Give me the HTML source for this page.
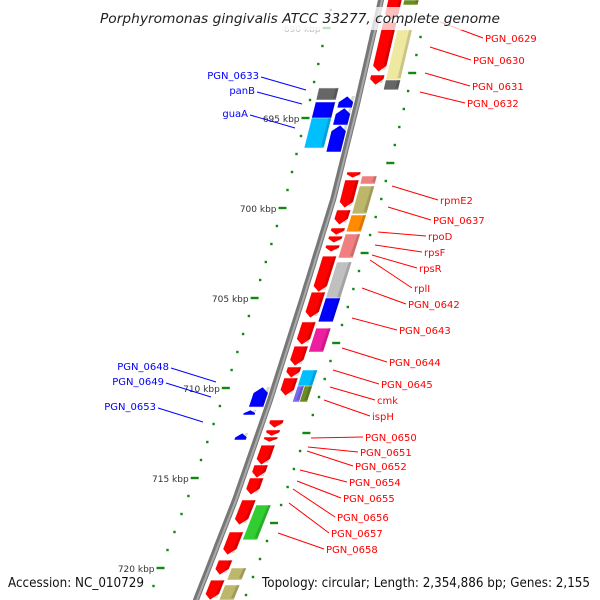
<!DOCTYPE html>
<html><head><meta charset="utf-8"><style>
html,body{margin:0;padding:0;background:#fff;}
svg{display:block;font-family:"DejaVu Sans","Liberation Sans",sans-serif;}
</style></head><body>
<svg id="map" width="600" height="600" viewBox="0 0 600 600" xmlns="http://www.w3.org/2000/svg">
<g id="dots"></g>
<g id="backbone"></g>
<g id="genes"></g>
<g id="ticks"></g>
<g id="labels"></g>
<rect x="0" y="7" width="600" height="23" fill="#fff" fill-opacity="0.75"/>
<text x="100" y="23" textLength="400" lengthAdjust="spacingAndGlyphs" font-size="13" font-style="italic" fill="#222">Porphyromonas gingivalis ATCC 33277, complete genome</text>
<text x="8" y="587" textLength="136" lengthAdjust="spacingAndGlyphs" font-size="13" fill="#111">Accession: NC_010729</text>
<text x="262" y="587" textLength="328" lengthAdjust="spacingAndGlyphs" font-size="13" fill="#111">Topology: circular; Length: 2,354,886 bp; Genes: 2,155</text>
</svg>
<script>
const tickKbp = [690, 695, 700, 705, 710, 715, 720];
const tickLabels = ["690 kbp","695 kbp","700 kbp","705 kbp","710 kbp","715 kbp","720 kbp"];
const fwdStart = [688.17, 689.67, 692.61, 698.0, 698.44, 700.11, 701.11, 701.56, 702.06, 702.67, 704.67, 706.33, 707.67, 708.83, 709.44, 711.78, 712.33, 712.72, 713.17, 714.28, 715.0, 716.22, 718.0, 719.56, 720.67];
const fwdEnd   = [689.56, 692.44, 693.17, 698.33, 700.0, 700.94, 701.5, 701.94, 702.44, 704.67, 706.11, 707.61, 708.78, 709.44, 710.44, 712.22, 712.67, 713.0, 714.28, 715.0, 715.94, 717.61, 719.28, 720.39, 721.78];
const catStart = [688.44, 690.11, 692.89, 698.22, 698.78, 700.39, 701.44, 703.0, 705.0, 706.67, 709.0, 709.89, 716.5, 720.0, 720.94];
const catEnd   = [688.72, 692.89, 693.44, 698.67, 700.33, 701.33, 702.78, 705.11, 706.33, 708.0, 710.0, 710.78, 718.44, 720.67, 721.78];
const catColor = ["#6b8e23","#eee8a0","#666666","#f08080","#bdb76b","#ff8c00","#f08080","#c0c0c0","#0000ff","#ee1ea0","#00bfff","#6b8e23","#32cd32","#bdb76b","#bdb76b"];
const catHalf  = [0,0,0,0,0,0,0,0,0,0,0,2,0,0,0];
const revStart = [693.78, 694.44, 695.39, 709.94, 711.22, 712.5];
const revEnd   = [694.44, 695.39, 696.89, 711.06, 711.5, 712.89];
const rcatStart = [693.33, 694.11, 695.0];
const rcatEnd   = [694.0, 695.11, 696.67];
const rcatColor = ["#666666","#0000ff","#00bfff"];

const svg = document.getElementById('map');
const NS = "http://www.w3.org/2000/svg";
const KY=[-100,0,100,200,300,400,500,600,700], KX=[404,381,358,333,302,270,235,196,155];
function yOf(k){ return 28 + (k - 690) * 18; }
function xl(y){ for(let i=0;i<KY.length-1;i++){ if(y<=KY[i+1]){ const t=(y-KY[i])/(KY[i+1]-KY[i]); return KX[i]+t*(KX[i+1]-KX[i]); } } return KX[KX.length-1]; }
function mk(tag, attrs, parent){ const e=document.createElementNS(NS,tag); for(const a in attrs) e.setAttribute(a,attrs[a]); parent.appendChild(e); return e; }

const bb = document.getElementById('backbone');
let d=""; for(let y=-10;y<=610;y+=5){ d += (y===-10?"M":"L")+xl(y).toFixed(1)+","+y+" "; }
const b1 = mk('path',{d:d,fill:'none',stroke:'#777','stroke-width':6},bb);


const b2 = mk('path',{d:d,fill:'none',stroke:'#aaa','stroke-width':2,transform:'translate(1,0)'},bb);



const dg = document.getElementById('dots');
for(let k=688;k<=722;k+=1){
  const y=yOf(k); if(y<-5||y>605) continue;
  const isTick = k%5===0;
  for(const side of [-1,1]){
    const off = side<0 ? -48 : 48;
    const yy = side<0 ? y : y+9;
    const x = xl(yy)+off;
    const long = (side<0&&isTick) || (side>0&&(k%5===2));
    const r = mk('rect',{x:(x-(long?4:1.2)).toFixed(1),y:(yy-1.2).toFixed(1),width:long?8:2.4,height:2.4,fill:'#118811'},dg);
    
    
  }
}

function band(y0,y1,o0,o1,fill,arrow,name){
  const g=document.getElementById('genes');
  const a0=xl(y0), a1=xl(y1);
  let pts;
  if(arrow==='down'){
    const tip=Math.min(6,(y1-y0)*0.6), ym=y1-tip;
    const am=xl(ym);
    pts=[[a0+o0,y0],[a0+o1,y0],[am+o1,ym],[xl(y1)+(o0+o1)/2,y1],[am+o0,ym]];
  } else if(arrow==='up'){
    const tip=Math.min(6,(y1-y0)*0.6), ym=y0+tip;
    const am=xl(ym);
    pts=[[a0+(o0+o1)/2,y0],[am+o1,ym],[a1+o1,y1],[a1+o0,y1],[am+o0,ym]];
  } else {
    pts=[[a0+o0,y0],[a0+o1,y0],[a1+o1,y1],[a1+o0,y1]];
  }
  const p=mk('polygon',{points:pts.map(q=>q[0].toFixed(1)+","+q[1].toFixed(1)).join(" "),fill:fill,stroke:'#fff','stroke-width':0.6},g);
  
  
  const s=mk('polygon',{points:[[a0+o1-3,y0],[a0+o1,y0],[a1+o1,y1-2],[a1+o1-3,y1-2]].map(q=>q[0].toFixed(1)+","+q[1].toFixed(1)).join(" "),fill:'#000','fill-opacity':0.15},g);
  
  
}
for(let i=0;i<fwdStart.length;i++) band(yOf(fwdStart[i]),yOf(fwdEnd[i]),7,21,'#ff0000','down','forward-gene');
for(let i=0;i<catStart.length;i++){
  const y0=yOf(catStart[i]), y1=yOf(catEnd[i]);
  if(catHalf[i]===2){ band(y0,y1,23,30,'#7b68ee',null,'category-box'); band(y0,y1,30,38,'#6b8e23',null,'category-box'); }
  else band(y0,y1,23,38,catColor[i],null,'category-box');
}
for(let i=0;i<revStart.length;i++){
  const small = (revEnd[i]-revStart[i])<0.5;
  band(yOf(revStart[i]),yOf(revEnd[i]),small?-22:-19,small?-10:-4,'#0000ff','up','reverse-gene');
}
for(let i=0;i<rcatStart.length;i++) band(yOf(rcatStart[i]),yOf(rcatEnd[i]),-42,-22,rcatColor[i],null,'reverse-category-box');

const tg=document.getElementById('ticks');
for(let i=0;i<tickKbp.length;i++){
  const y=yOf(tickKbp[i]);
  const t=mk('text',{x:(xl(y)-54).toFixed(1),y:(y+4).toFixed(1),'text-anchor':'end','font-size':9,fill:i===0?'#bbb':'#333'},tg);
  t.textContent=tickLabels[i];
  
  
}

const rightLabels=[["PGN_0629",485,38,440,22],["PGN_0630",473,60,430,47],["PGN_0631",472,86,425,73],["PGN_0632",467,103,420,92],
["rpmE2",440,200,392,186],["PGN_0637",433,220,388,207],["rpoD",428,236,378,232],["rpsF",424,252,375,245],["rpsR",419,268,372,255],
["rplI",414,288,370,260],["PGN_0642",408,304,362,288],["PGN_0643",399,330,352,318],["PGN_0644",389,362,342,348],["PGN_0645",381,384,333,370],
["cmk",377,400,330,387],["ispH",372,416,324,400],["PGN_0650",365,437,311,438],["PGN_0651",360,452,308,447],["PGN_0652",355,466,307,451],
["PGN_0654",349,482,300,470],["PGN_0655",343,498,297,481],["PGN_0656",337,517,293,489],["PGN_0657",331,533,289,503],["PGN_0658",326,549,278,533]];
const leftLabels=[["PGN_0633",259,75,306,90],["panB",255,90,302,104],["guaA",248,113,295,128],["PGN_0648",169,366,216,382],["PGN_0649",164,381,211,397],["PGN_0653",156,406,203,422]];
const lg=document.getElementById('labels');
for(const L of rightLabels){
  const ln=mk('line',{x1:L[3],y1:L[4],x2:L[1]-2,y2:L[2],stroke:'#ff0000','stroke-width':1},lg);
  
  
  const t=mk('text',{x:L[1],y:L[2]+4,'font-size':10,fill:'#ff0000'},lg);
  t.textContent=L[0];
  
  
}
for(const L of leftLabels){
  const ln=mk('line',{x1:L[1]+2,y1:L[2]+2,x2:L[3],y2:L[4],stroke:'#0000ff','stroke-width':1},lg);
  
  
  const t=mk('text',{x:L[1],y:L[2]+4,'font-size':10,fill:'#0000ff','text-anchor':'end'},lg);
  t.textContent=L[0];
  
  
}
</script>
</body></html>
